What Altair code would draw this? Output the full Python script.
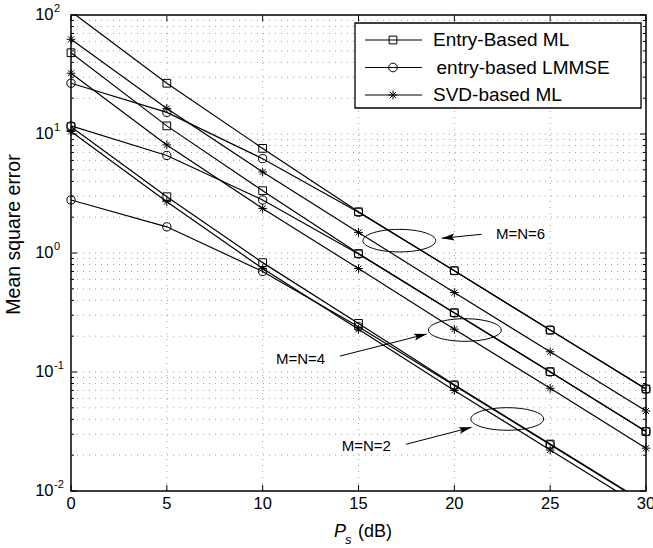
import altair as alt
import pandas as pd

# ---------------- data ----------------
ps_db = [0, 5, 10, 15, 20, 25, 30]
methods = ["Entry-Based ML", "entry-based LMMSE", "SVD-based ML"]
sizes = ["M=N=6", "M=N=4", "M=N=2"]

ml_6 = [107, 26.7, 7.57, 2.22, 0.71, 0.225, 0.072]
lmmse_6 = [26.7, 15.2, 6.2, 2.2, 0.71, 0.225, 0.072]
svd_6 = [62.5, 16.4, 4.8, 1.49, 0.465, 0.148, 0.047]

ml_4 = [48.2, 11.7, 3.34, 0.99, 0.315, 0.1007, 0.0316]
lmmse_4 = [11.7, 6.6, 2.79, 0.98, 0.313, 0.100, 0.0316]
svd_4 = [32.4, 8.1, 2.37, 0.74, 0.229, 0.073, 0.0229]

ml_2 = [11.5, 2.97, 0.83, 0.256, 0.078, 0.0248, 0.0079]
lmmse_2 = [2.79, 1.66, 0.70, 0.240, 0.077, 0.0245, 0.0078]
svd_2 = [10.5, 2.70, 0.74, 0.229, 0.070, 0.0221, 0.0070]

x_ticks = [0, 5, 10, 15, 20, 25, 30]
x_tick_labels = ["0", "5", "10", "15", "20", "25", "30"]
y_major = [0.01, 0.1, 1, 10, 100]
y_exponents = ["-2", "-1", "0", "1", "2"]
y_minor_mult = [2, 3, 4, 5, 6, 7, 8, 9]

ann_labels = ["M=N=6", "M=N=4", "M=N=2"]
ann_text_x = [22.17, 10.69, 14.12]
ann_text_y = [1.44, 0.128, 0.0241]
ell_x = [17.13, 20.55, 22.76]
ell_y = [1.27, 0.2254, 0.0403]
arrow_x0 = [21.42, 14.03, 17.48]
arrow_y0 = [1.436, 0.136, 0.0247]
arrow_x1 = [19.34, 18.56, 20.9]
arrow_y1 = [1.33, 0.2086, 0.0343]
arrow_angle = [174.3, 345.8, 345.5]

# ---------------- tables ----------------
rows = []
for size, series in zip(sizes, [[ml_6, lmmse_6, svd_6], [ml_4, lmmse_4, svd_4], [ml_2, lmmse_2, svd_2]]):
    for m, vals in zip(methods, series):
        for x, v in zip(ps_db, vals):
            rows.append({"size": size, "method": m, "series": m + " " + size, "x": x, "y": v})
df = pd.DataFrame(rows)

y_minor = [m * d for d in y_major[:-1] for m in y_minor_mult]

FONT = "Liberation Sans"
W, H = 575, 476
ASTERISK = "M0,-1L0,1M-1,0L1,0M-0.7,-0.7L0.7,0.7M-0.7,0.7L0.7,-0.7"
ELLIPSE = ("M-1,0C-1,-0.171,-0.552,-0.31,0,-0.31C0.552,-0.31,1,-0.171,1,0"
           "C1,0.171,0.552,0.31,0,0.31C-0.552,0.31,-1,0.171,-1,0Z")
ARROWHEAD = "M0,0L-1,-0.27L-0.8,0L-1,0.27Z"

xs = alt.Scale(domain=[0, 30], nice=False, zero=False)
ys = alt.Scale(type="log", domain=[0.01, 100], nice=False)
X = alt.X("x:Q", scale=xs, axis=None)
Y = alt.Y("y:Q", scale=ys, axis=None)

GRID = dict(color="#a0a0a0", strokeWidth=1, strokeDash=[1, 5])

hgrid = alt.Chart(pd.DataFrame({"y": y_major[1:-1] + y_minor})).mark_rule(**GRID).encode(
    y=Y, x=alt.value(0), x2=alt.value(W))
vgrid = alt.Chart(pd.DataFrame({"x": x_ticks[1:-1]})).mark_rule(**GRID).encode(
    x=X, y=alt.value(0), y2=alt.value(H))

TICK = dict(color="black", strokeWidth=1)
ymaj_df = pd.DataFrame({"y": y_major})
ymin_df = pd.DataFrame({"y": y_minor})
xt_df = pd.DataFrame({"x": x_ticks})
ticks = [
    alt.Chart(ymaj_df).mark_rule(**TICK).encode(y=Y, x=alt.value(0), x2=alt.value(6)),
    alt.Chart(ymaj_df).mark_rule(**TICK).encode(y=Y, x=alt.value(W - 6), x2=alt.value(W)),
    alt.Chart(ymin_df).mark_rule(**TICK).encode(y=Y, x=alt.value(0), x2=alt.value(3)),
    alt.Chart(ymin_df).mark_rule(**TICK).encode(y=Y, x=alt.value(W - 3), x2=alt.value(W)),
    alt.Chart(xt_df).mark_rule(**TICK).encode(x=X, y=alt.value(H - 6), y2=alt.value(H)),
    alt.Chart(xt_df).mark_rule(**TICK).encode(x=X, y=alt.value(0), y2=alt.value(6)),
]

# tick labels
ylab_df = pd.DataFrame({"y": y_major, "e": y_exponents})
ylab10 = alt.Chart(ylab_df).mark_text(font=FONT, fontSize=16.5, align="right", baseline="middle",
                                      color="black").encode(y=Y, x=alt.value(-17.5), text=alt.value("10"))
ylabexp = alt.Chart(ylab_df).mark_text(font=FONT, fontSize=11, align="left", baseline="middle",
                                       dy=-6, color="black").encode(y=Y, x=alt.value(-17), text="e:N")
xlab = alt.Chart(pd.DataFrame({"x": x_ticks, "t": x_tick_labels})).mark_text(
    font=FONT, fontSize=16.5, align="center", baseline="middle", color="black").encode(
    x=X, y=alt.value(H + 13), text="t:N")

one = pd.DataFrame({"a": [0]})
xtitle = [
    alt.Chart(one).mark_text(text="P", font=FONT, fontSize=18, fontStyle="italic", align="left",
                             baseline="alphabetic", color="black").encode(x=alt.value(263), y=alt.value(522)),
    alt.Chart(one).mark_text(text="s", font=FONT, fontSize=13, fontStyle="italic", align="left",
                             baseline="alphabetic", color="black").encode(x=alt.value(274), y=alt.value(529)),
    alt.Chart(one).mark_text(text="(dB)", font=FONT, fontSize=18, align="left",
                             baseline="alphabetic", color="black").encode(x=alt.value(287), y=alt.value(522)),
]
ytitle = alt.Chart(one).mark_text(text="Mean square error", font=FONT, fontSize=19.5, angle=270,
                                  align="center", baseline="middle", color="black").encode(
    x=alt.value(-57), y=alt.value(219.5))

# data
lines = alt.Chart(df).mark_line(clip=True, color="black", strokeWidth=1.2).encode(
    x=X, y=Y, detail="series:N", order="x:Q")
points = alt.Chart(df).transform_filter(
    "datum.y >= 0.01 && datum.y <= 100").mark_point(filled=False, color="black", strokeWidth=1, opacity=1).encode(
    x=X, y=Y,
    shape=alt.Shape("method:N", scale=alt.Scale(domain=methods, range=["square", "circle", ASTERISK]), legend=None),
    size=alt.Size("method:N", scale=alt.Scale(domain=methods, range=[60, 75, 80]), legend=None),
)

# annotations
ann_df = pd.DataFrame({
    "label": ann_labels, "tx": ann_text_x, "ty": ann_text_y,
    "ex": ell_x, "ey": ell_y, "x0": arrow_x0, "y0": arrow_y0,
    "x1": arrow_x1, "y1": arrow_y1, "angle": arrow_angle,
})
ann_text = alt.Chart(ann_df).mark_text(font=FONT, fontSize=15, align="left", baseline="middle",
                                       color="black").encode(
    x=alt.X("tx:Q", scale=xs, axis=None), y=alt.Y("ty:Q", scale=ys, axis=None), text="label:N")
ellipses = alt.Chart(ann_df).mark_point(shape=ELLIPSE, size=5300, filled=False, color="black",
                                        strokeWidth=1, opacity=1).encode(
    x=alt.X("ex:Q", scale=xs, axis=None), y=alt.Y("ey:Q", scale=ys, axis=None))
arrow_lines = alt.Chart(ann_df).mark_rule(color="black", strokeWidth=1).encode(
    x=alt.X("x0:Q", scale=xs, axis=None), y=alt.Y("y0:Q", scale=ys, axis=None),
    x2="x1:Q", y2="y1:Q")
arrow_heads = alt.Chart(ann_df).mark_point(shape=ARROWHEAD, size=650, filled=True, color="black",
                                           opacity=1).encode(
    x=alt.X("x1:Q", scale=xs, axis=None), y=alt.Y("y1:Q", scale=ys, axis=None),
    angle=alt.Angle("angle:Q", scale=None))

# legend
legend_row_y = [25, 52.5, 80]
legend_text_x = [362, 365.5, 362]
legend_shapes = ["square", "circle", ASTERISK]
legend_sizes = [60, 75, 80]
legend = [alt.Chart(one).mark_rect(fill="white", stroke="black", strokeWidth=1.3).encode(
    x=alt.value(284), x2=alt.value(570), y=alt.value(8), y2=alt.value(93))]
for m, ry, tx, shp, sz in zip(methods, legend_row_y, legend_text_x, legend_shapes, legend_sizes):
    legend.append(alt.Chart(one).mark_rule(color="black", strokeWidth=1.2).encode(
        x=alt.value(294), x2=alt.value(351), y=alt.value(ry)))
    legend.append(alt.Chart(one).mark_point(shape=shp, size=sz, filled=False, color="black",
                                            strokeWidth=1, opacity=1).encode(
        x=alt.value(322), y=alt.value(ry)))
    legend.append(alt.Chart(one).mark_text(text=m, font=FONT, fontSize=19, align="left",
                                           baseline="middle", color="black").encode(
        x=alt.value(tx), y=alt.value(ry)))

chart = alt.layer(
    hgrid, vgrid, *ticks, lines, points, ellipses, arrow_lines, arrow_heads, ann_text,
    ylab10, ylabexp, xlab, *xtitle, ytitle, *legend,
).properties(
    width=W, height=H,
    padding={"left": 71, "top": 15, "right": 7, "bottom": 57},
    autosize=alt.AutoSizeParams(type="none"),
).configure_view(stroke="black", strokeWidth=1.5)

chart.save("out.html", embed_options={"renderer": "svg", "actions": False})
